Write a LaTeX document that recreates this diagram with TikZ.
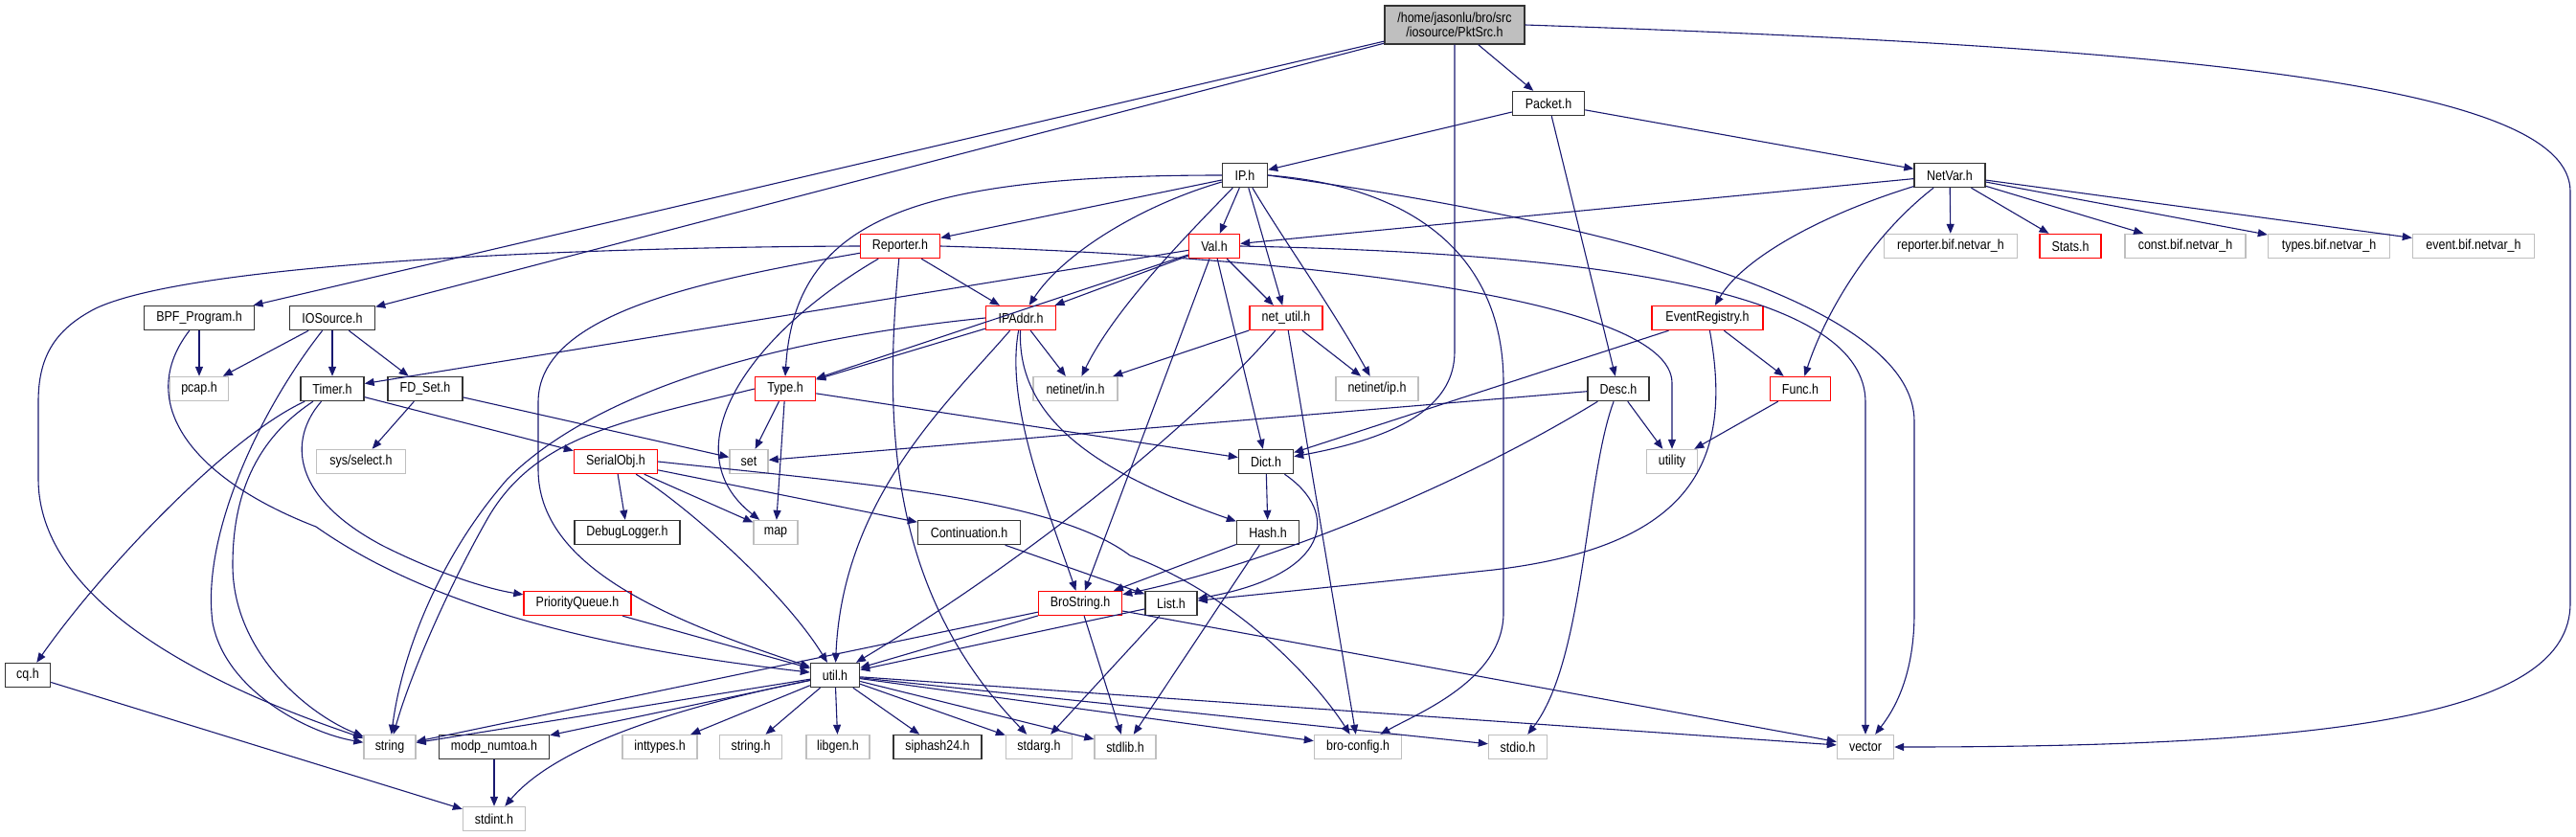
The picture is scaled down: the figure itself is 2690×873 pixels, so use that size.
\documentclass[tikz,border=0pt]{standalone}
\usepackage{fontspec}
\newfontfamily\nf[FakeStretch=0.86]{Liberation Sans}
\usetikzlibrary{arrows.meta}
\definecolor{edgec}{HTML}{191970}
\definecolor{grayb}{HTML}{BFBFBF}
\definecolor{redb}{HTML}{FF0000}
\begin{document}
\begin{tikzpicture}[x=1pt,y=-1pt,
  e/.style={draw=edgec, line width=1.1pt, -{Triangle[length=10pt,width=8pt]}},
  box/.style={rectangle, inner sep=0pt, minimum height=25pt, fill=white, line width=1.4pt,
    font={\nf\fontsize{14.5pt}{15pt}\selectfont}, text=black},
  bk/.style={box, draw=black!80},
  gr/.style={box, draw=grayb},
  rd/.style={box, draw=redb}]
\useasboundingbox (0,0) rectangle (2690,873);
% row 1-3
\node[bk, fill=grayb, minimum width=146pt, minimum height=40pt, align=center] (pkt) at (1519,26) {/home/jasonlu/bro/src\\/iosource/PktSrc.h};
\node[bk, minimum width=75pt] (packet) at (1617,108) {Packet.h};
\node[bk, minimum width=47pt] (ip) at (1300,183) {IP.h};
\node[bk, minimum width=74pt] (netvar) at (2036,183) {NetVar.h};
% row 257
\node[rd, minimum width=83pt] (reporter) at (940,257) {Reporter.h};
\node[rd, minimum width=53pt] (val) at (1268,257) {Val.h};
\node[gr, minimum width=139pt] (repbif) at (2037,257) {reporter.bif.netvar\_h};
\node[rd, minimum width=64pt] (stats) at (2162,257) {Stats.h};
\node[gr, minimum width=126pt] (constbif) at (2282,257) {const.bif.netvar\_h};
\node[gr, minimum width=127pt] (typesbif) at (2432,257) {types.bif.netvar\_h};
\node[gr, minimum width=127pt] (eventbif) at (2583,257) {event.bif.netvar\_h};
% row 332
\node[bk, minimum width=115pt] (bpf) at (208,332) {BPF\_Program.h};
\node[bk, minimum width=89pt] (iosrc) at (347,332) {IOSource.h};
\node[rd, minimum width=73pt] (ipaddr) at (1066,332) {IPAddr.h};
\node[rd, minimum width=76pt] (netutil) at (1343,332) {net\_util.h};
\node[rd, minimum width=116pt] (evreg) at (1783,332) {EventRegistry.h};
% row 406
\node[gr, minimum width=61pt] (pcap) at (208,406) {pcap.h};
\node[bk, minimum width=66pt] (timer) at (347,406) {Timer.h};
\node[bk, minimum width=78pt] (fdset) at (444,406) {FD\_Set.h};
\node[rd, minimum width=63pt] (type) at (820,406) {Type.h};
\node[gr, minimum width=88pt] (netin) at (1123,406) {netinet/in.h};
\node[gr, minimum width=86pt] (netip) at (1438,406) {netinet/ip.h};
\node[bk, minimum width=64pt] (desc) at (1690,406) {Desc.h};
\node[rd, minimum width=63pt] (func) at (1880,406) {Func.h};
% row 482
\node[gr, minimum width=93pt] (sysselect) at (377,482) {sys/select.h};
\node[rd, minimum width=87pt] (serial) at (643,482) {SerialObj.h};
\node[gr, minimum width=40pt] (set) at (782,482) {set};
\node[bk, minimum width=57pt] (dict) at (1322,482) {Dict.h};
\node[gr, minimum width=53pt] (utility) at (1746,482) {utility};
% row 556
\node[bk, minimum width=110pt] (debug) at (655,556) {DebugLogger.h};
\node[gr, minimum width=46pt] (map) at (810,556) {map};
\node[bk, minimum width=107pt] (cont) at (1012,556) {Continuation.h};
\node[bk, minimum width=65pt] (hash) at (1324,556) {Hash.h};
% row 630
\node[rd, minimum width=112pt] (pq) at (603,630) {PriorityQueue.h};
\node[rd, minimum width=87pt] (brostr) at (1128,630) {BroString.h};
\node[bk, minimum width=54pt] (list) at (1223,630) {List.h};
% row 705
\node[bk, minimum width=47pt] (cq) at (29,705) {cq.h};
\node[bk, minimum width=51pt] (util) at (872,705) {util.h};
% row 780
\node[gr, minimum width=54pt] (string) at (407,780) {string};
\node[bk, minimum width=115pt] (modp) at (516,780) {modp\_numtoa.h};
\node[gr, minimum width=78pt] (inttypes) at (689,780) {inttypes.h};
\node[gr, minimum width=65pt] (stringh) at (784,780) {string.h};
\node[gr, minimum width=66pt] (libgen) at (875,780) {libgen.h};
\node[bk, minimum width=92pt] (siphash) at (979,780) {siphash24.h};
\node[gr, minimum width=69pt] (stdarg) at (1085,780) {stdarg.h};
\node[gr, minimum width=64pt] (stdlib) at (1175,780) {stdlib.h};
\node[gr, minimum width=91pt] (broconfig) at (1418,780) {bro-config.h};
\node[gr, minimum width=61pt] (stdio) at (1585,780) {stdio.h};
\node[gr, minimum width=59pt] (vector) at (1948,780) {vector};
% row 855
\node[gr, minimum width=65pt] (stdint) at (516,855) {stdint.h};

% ---------------- edges ----------------
\draw[e] (pkt) -- (packet);
\draw[e] (pkt) -- (bpf);
\draw[e] (pkt) -- (iosrc);
\draw[e] (pkt.south) -- (1519,367) .. controls (1519,420) and (1470,455) .. (dict);
\draw[e] (pkt.east) .. controls (2300,50) and (2684,90) .. (2684,200) -- (2684,630) .. controls (2684,745) and (2450,780) .. (vector.east);
\draw[e] (packet) -- (ip);
\draw[e] (packet) -- (netvar);
\draw[e] (packet) -- (desc);
% IP.h
\draw[e] (ip) -- (reporter);
\draw[e] (ip) -- (val);
\draw[e] (ip) .. controls (1190,215) and (1110,265) .. (ipaddr);
\draw[e] (ip) -- (netutil);
\draw[e] (ip.west) .. controls (950,183) and (830,230) .. (type.north);
\draw[e] (ip) .. controls (1245,240) and (1165,320) .. (netin);
\draw[e] (ip) .. controls (1340,250) and (1390,320) .. (netip);
\draw[e] (ip.east) .. controls (1480,195) and (1570,270) .. (1570,400) -- (1570,640) .. controls (1570,710) and (1480,745) .. (broconfig);
\draw[e] (ip.east) .. controls (1700,235) and (1999,320) .. (1999,440) -- (1999,640) .. controls (1999,710) and (1975,745) .. (vector);
% NetVar.h
\draw[e] (netvar) -- (val);
\draw[e] (netvar) .. controls (1900,225) and (1820,270) .. (evreg);
\draw[e] (netvar) .. controls (1950,250) and (1905,330) .. (func);
\draw[e] (netvar) -- (repbif);
\draw[e] (netvar) -- (stats);
\draw[e] (netvar) -- (constbif);
\draw[e] (netvar) -- (typesbif);
\draw[e] (netvar) -- (eventbif);
% BPF / IOSource / Timer / FD_Set
\draw[e] (bpf) -- (pcap);
\draw[e] (bpf) .. controls (140,420) and (200,500) .. (330,550) .. controls (430,620) and (580,672) .. (util);
\draw[e] (iosrc) -- (pcap);
\draw[e] (iosrc) -- (timer);
\draw[e] (iosrc) -- (fdset);
\draw[e] (iosrc) .. controls (270,430) and (210,560) .. (222,650) .. controls (235,720) and (320,765) .. (string);
\draw[e] (timer) -- (serial);
\draw[e] (timer) .. controls (300,460) and (305,520) .. (400,570) .. controls (460,600) and (510,615) .. (pq);
\draw[e] (timer) .. controls (240,455) and (110,590) .. (cq);
\draw[e] (timer) .. controls (265,460) and (243,520) .. (243,590) .. controls (243,680) and (320,745) .. (string);
\draw[e] (fdset) -- (sysselect);
\draw[e] (fdset) -- (set);
% SerialObj / PriorityQueue
\draw[e] (serial) -- (debug);
\draw[e] (serial) -- (map);
\draw[e] (serial) -- (cont);
\draw[e] (serial) .. controls (720,530) and (820,620) .. (util);
\draw[e] (serial.east) .. controls (900,505) and (1100,520) .. (1180,580) .. controls (1300,625) and (1380,720) .. (broconfig);
\draw[e] (pq) -- (util);
% IPAddr
\draw[e] (ipaddr) -- (type);
\draw[e] (ipaddr) -- (netin);
\draw[e] (ipaddr.west) .. controls (750,360) and (600,430) .. (530,500) .. controls (460,580) and (420,680) .. (string);
\draw[e] (ipaddr) .. controls (990,420) and (880,520) .. (util);
\draw[e] (ipaddr) .. controls (1050,420) and (1090,520) .. (brostr);
\draw[e] (ipaddr) .. controls (1062,440) and (1150,495) .. (hash);
% Val
\draw[e] (val) -- (type);
\draw[e] (val) -- (ipaddr);
\draw[e] (val) -- (timer);
\draw[e] (val) -- (netutil);
\draw[e] (val) -- (dict);
\draw[e] (val) -- (brostr);
\draw[e] (val.east) .. controls (1700,265) and (1948,310) .. (1948,420) -- (vector);
% Reporter
\draw[e] (reporter) -- (ipaddr);
\draw[e] (reporter.west) .. controls (600,258) and (200,275) .. (100,322) .. controls (55,345) and (40,375) .. (40,420) -- (40,500) .. controls (40,610) and (170,700) .. (string);
\draw[e] (reporter) .. controls (720,295) and (562,330) .. (562,420) -- (562,490) .. controls (562,590) and (690,645) .. (util);
\draw[e] (reporter) .. controls (780,350) and (700,470) .. (map);
\draw[e] (reporter) .. controls (922,450) and (930,620) .. (stdarg);
\draw[e] (reporter.east) .. controls (1350,268) and (1746,310) .. (1746,400) -- (utility);
% net_util
\draw[e] (netutil) -- (netin);
\draw[e] (netutil) -- (netip);
\draw[e] (netutil) .. controls (1250,440) and (1080,580) .. (util);
\draw[e] (netutil) -- (broconfig);
% Type
\draw[e] (type) -- (set);
\draw[e] (type) -- (map);
\draw[e] (type) -- (dict);
\draw[e] (type.west) .. controls (650,440) and (560,455) .. (510,540) .. controls (470,610) and (430,700) .. (string);
% EventRegistry / Func / Desc
\draw[e] (evreg) -- (func);
\draw[e] (evreg) -- (dict);
\draw[e] (evreg) .. controls (1810,480) and (1770,570) .. (1560,595) .. controls (1420,610) and (1320,620) .. (list);
\draw[e] (func) -- (utility);
\draw[e] (desc) -- (set);
\draw[e] (desc) -- (utility);
\draw[e] (desc) .. controls (1655,500) and (1655,690) .. (stdio);
\draw[e] (desc) .. controls (1520,510) and (1320,590) .. (brostr);
% Dict / Hash / Continuation
\draw[e] (dict) -- (hash);
\draw[e] (dict) .. controls (1400,535) and (1390,600) .. (list);
\draw[e] (hash) -- (brostr);
\draw[e] (hash) -- (stdlib);
\draw[e] (cont) -- (list);
% BroString / List
\draw[e] (brostr) -- (util);
\draw[e] (brostr) -- (string);
\draw[e] (brostr) -- (stdlib);
\draw[e] (brostr) -- (vector);
\draw[e] (list) -- (util);
\draw[e] (list) -- (stdarg);
% util
\draw[e] (util) -- (string);
\draw[e] (util) -- (modp);
\draw[e] (util) -- (inttypes);
\draw[e] (util) -- (stringh);
\draw[e] (util) -- (libgen);
\draw[e] (util) -- (siphash);
\draw[e] (util) -- (stdarg);
\draw[e] (util) -- (stdlib);
\draw[e] (util) -- (broconfig);
\draw[e] (util) -- (stdio);
\draw[e] (util) -- (vector);
\draw[e] (util) .. controls (700,740) and (580,780) .. (stdint);
\draw[e] (modp) -- (stdint);
\draw[e] (cq) -- (stdint);
\end{tikzpicture}
\end{document}
